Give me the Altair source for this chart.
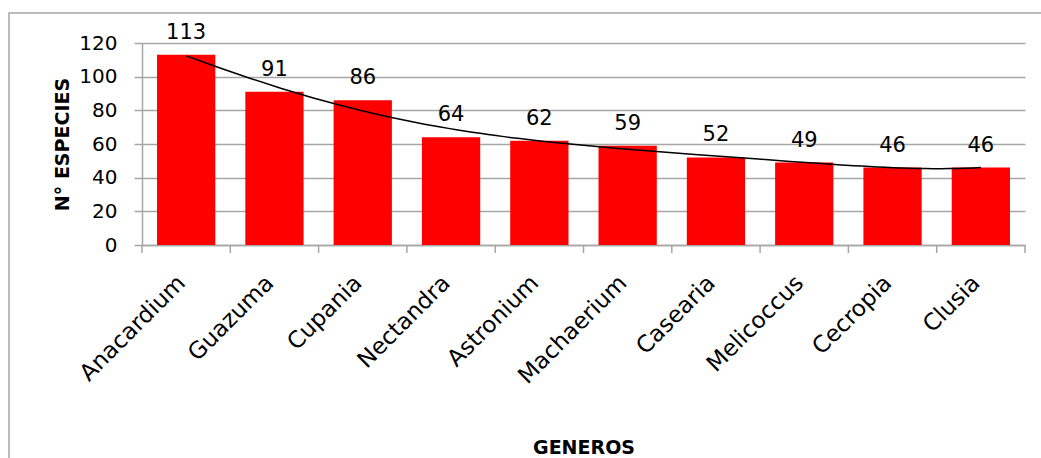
import altair as alt
import pandas as pd

# Géneros y número de especies
generos = ["Anacardium", "Guazuma", "Cupania", "Nectandra", "Astronium",
           "Machaerium", "Casearia", "Melicoccus", "Cecropia", "Clusia"]
especies = [113, 91, 86, 64, 62, 59, 52, 49, 46, 46]
posicion = list(range(1, len(generos) + 1))
bordes = [p - 0.5 for p in posicion] + [len(generos) + 0.5]
y_ticks = [0, 20, 40, 60, 80, 100, 120]

FONT = "DejaVu Sans"
GRIS = "#a6a6a6"
W, H = 883, 202

df = pd.DataFrame({"pos": posicion, "genero": generos, "especies": especies})
df_bordes = pd.DataFrame({"borde": bordes})

label_expr = "[" + ",".join(f"'{g}'" for g in generos) + "][datum.value - 1]"

x_scale = alt.Scale(domain=[0.5, len(generos) + 0.5], nice=False, zero=False, padding=0)
y_scale = alt.Scale(domain=[0, 120], nice=False, padding=0)

x_axis = alt.Axis(
    values=posicion, labelExpr=label_expr, ticks=False, grid=False,
    labelAngle=-45, labelAlign="right", labelBaseline="middle",
    labelPadding=34, labelOffset=-5, labelFontSize=23, labelColor="black",
    labelOverlap=False,
    domainColor=GRIS, domainWidth=1.5,
    title="GENEROS", titleFontSize=19, titleFontWeight="bold",
    titleY=208, titleBaseline="alphabetic", titleColor="black",
)
y_axis = alt.Axis(
    values=y_ticks, grid=True, gridColor=GRIS, gridWidth=1.5,
    domainColor=GRIS, domainWidth=1.5, tickColor=GRIS, tickWidth=1.5,
    tickSize=8, labelPadding=17, labelFontSize=20, labelColor="black",
    title="N° ESPECIES", titleFontSize=19, titleFontWeight="bold",
    titleX=-74, titleBaseline="alphabetic", titleColor="black",
)

X = lambda f: alt.X(f, scale=x_scale, axis=x_axis, title="GENEROS")
Y = lambda f: alt.Y(f, scale=y_scale, axis=y_axis, title="N° ESPECIES")

base = alt.Chart(df)

barras = base.transform_calculate(
    x0="datum.pos - 0.33", x1="datum.pos + 0.33"
).mark_bar(color="#ff0000").encode(
    x=X("x0:Q"), x2="x1:Q", y=Y("especies:Q"), y2=alt.datum(0)
)

etiquetas = base.mark_text(
    dy=-16, baseline="alphabetic", fontSize=21, font=FONT, color="black"
).encode(x=X("pos:Q"), y=Y("especies:Q"), text="especies:Q")

# Línea de tendencia polinómica
tendencia = base.transform_regression(
    "pos", "especies", method="poly", order=5
).mark_line(color="black", strokeWidth=1.5).encode(
    x=X("pos:Q"), y=Y("especies:Q")
)

marcas = alt.Chart(df_bordes).mark_rule(color=GRIS, strokeWidth=1.5).encode(
    x=X("borde:Q"), y=alt.value(H), y2=alt.value(H + 8)
)

marco = alt.Chart(pd.DataFrame({"a": [0]})).mark_rect(
    fillOpacity=0, stroke=GRIS, strokeWidth=1.5
).encode(
    x=alt.value(-133), x2=alt.value(1100), y=alt.value(-30), y2=alt.value(600)
)

chart = alt.layer(marco, barras, tendencia, etiquetas, marcas).properties(
    width=W, height=H,
    padding={"left": 142, "top": 43, "right": 16, "bottom": 213},
    autosize=alt.AutoSizeParams(type="none"),
    background="white",
).configure_view(stroke=None).configure_axis(
    labelFont=FONT, titleFont=FONT
)

chart.save("out.html", embed_options={"renderer": "svg", "actions": False})
